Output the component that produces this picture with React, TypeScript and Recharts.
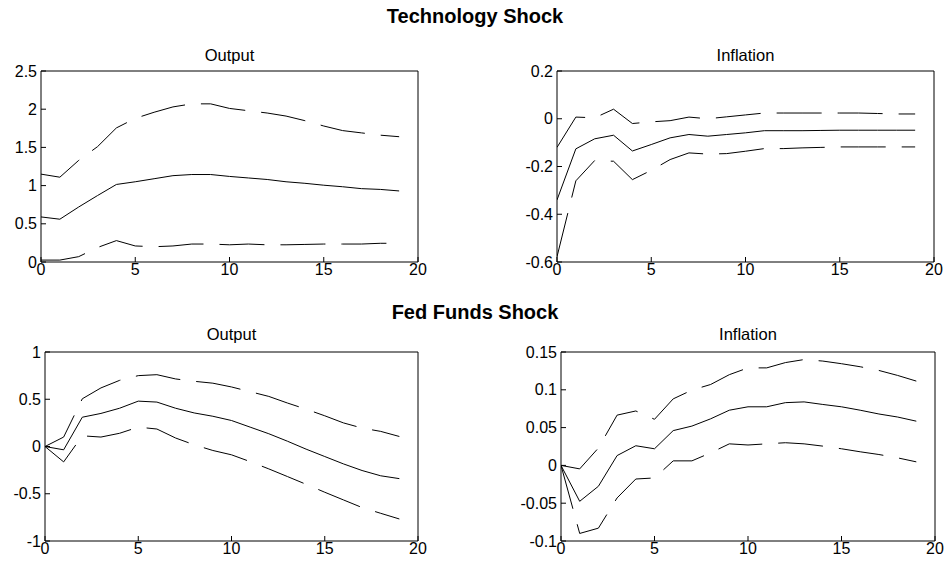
import React from 'react';
import { LineChart, Line, XAxis, YAxis } from 'recharts';

const periods = [0, 1, 2, 3, 4, 5, 6, 7, 8, 9, 10, 11, 12, 13, 14, 15, 16, 17, 18, 19];
const xTicks = [0, 5, 10, 15, 20];

const techOutputMid = [0.59, 0.56, 0.72, 0.87, 1.015, 1.05, 1.09, 1.13, 1.145, 1.145, 1.12, 1.1, 1.08, 1.05, 1.03, 1.005, 0.985, 0.96, 0.95, 0.93];
const techOutputUpper = [1.15, 1.11, 1.33, 1.51, 1.755, 1.88, 1.96, 2.03, 2.07, 2.07, 2.01, 1.98, 1.95, 1.91, 1.85, 1.78, 1.72, 1.69, 1.66, 1.64];
const techOutputLower = [0.025, 0.025, 0.07, 0.19, 0.28, 0.21, 0.2, 0.21, 0.235, 0.235, 0.225, 0.235, 0.225, 0.225, 0.23, 0.235, 0.235, 0.235, 0.245, 0.245];
const techOutputTicks = [0, 0.5, 1, 1.5, 2, 2.5];

const techInflMid = [-0.34, -0.126, -0.084, -0.069, -0.135, -0.108, -0.08, -0.066, -0.073, -0.066, -0.059, -0.05, -0.05, -0.05, -0.049, -0.048, -0.048, -0.048, -0.048, -0.048];
const techInflUpper = [-0.12, 0.007, 0.004, 0.04, -0.02, -0.013, -0.008, 0.007, 0, 0.008, 0.016, 0.024, 0.024, 0.024, 0.024, 0.024, 0.024, 0.022, 0.02, 0.02];
const techInflLower = [-0.578, -0.26, -0.175, -0.178, -0.255, -0.216, -0.171, -0.143, -0.148, -0.146, -0.136, -0.125, -0.125, -0.122, -0.12, -0.118, -0.118, -0.118, -0.118, -0.118];
const techInflTicks = [-0.6, -0.4, -0.2, 0, 0.2];

const fedOutputMid = [0, -0.035, 0.31, 0.35, 0.405, 0.48, 0.47, 0.405, 0.355, 0.32, 0.275, 0.205, 0.135, 0.056, -0.028, -0.106, -0.184, -0.254, -0.31, -0.34];
const fedOutputUpper = [0, 0.1, 0.505, 0.62, 0.7, 0.75, 0.76, 0.715, 0.69, 0.67, 0.63, 0.58, 0.53, 0.46, 0.395, 0.325, 0.25, 0.195, 0.16, 0.106];
const fedOutputLower = [0, -0.163, 0.113, 0.1, 0.14, 0.205, 0.185, 0.09, 0.018, -0.042, -0.088, -0.16, -0.237, -0.318, -0.4, -0.484, -0.565, -0.646, -0.707, -0.767];
const fedOutputTicks = [-1, -0.5, 0, 0.5, 1];

const fedInflMid = [0, -0.0475, -0.0276, 0.013, 0.026, 0.022, 0.046, 0.052, 0.0616, 0.073, 0.0775, 0.0775, 0.083, 0.084, 0.0806, 0.0775, 0.073, 0.068, 0.064, 0.0585];
const fedInflUpper = [0, -0.0046, 0.023, 0.0665, 0.072, 0.061, 0.088, 0.0996, 0.107, 0.12, 0.129, 0.129, 0.136, 0.14, 0.138, 0.1345, 0.1305, 0.1256, 0.119, 0.1115];
const fedInflLower = [0, -0.09, -0.083, -0.043, -0.018, -0.0166, 0.006, 0.006, 0.0166, 0.0285, 0.027, 0.0285, 0.03, 0.0285, 0.0255, 0.022, 0.018, 0.0144, 0.01, 0.0047];
const fedInflTicks = [-0.1, -0.05, 0, 0.05, 0.1, 0.15];

const FONT = '"Liberation Sans", Arial, Helvetica, sans-serif';
const TICK_FONT = 16;

type PanelProps = {
  mid: number[];
  upper: number[];
  lower: number[];
  yTicks: number[];
  left: number;
  top: number;
  width: number;
  height: number;
};

function Panel({ mid, upper, lower, yTicks, left, top, width, height }: PanelProps) {
  const mL = 60;
  const mR = 12;
  const mT = 10;
  const mB = 30;
  const data = periods.map((t, i) => ({ t, mid: mid[i], upper: upper[i], lower: lower[i] }));
  const domain: [number, number] = [yTicks[0], yTicks[yTicks.length - 1]];
  const tickStyle = { fill: '#000', fontSize: TICK_FONT, fontFamily: FONT };
  return (
    <div style={{ position: 'absolute', left: left - mL, top: top - mT }}>
      <LineChart
        width={width + mL + mR}
        height={height + mT + mB}
        data={data}
        margin={{ top: 0, right: 0, bottom: 0, left: 0 }}
      >
        <XAxis
          dataKey="t"
          type="number"
          domain={[0, 20]}
          ticks={xTicks}
          interval={0}
          height={mB}
          tickSize={-5}
          tickMargin={7}
          stroke="#000"
          tick={tickStyle}
          allowDataOverflow
        />
        <XAxis
          xAxisId="top"
          orientation="top"
          type="number"
          domain={[0, 20]}
          ticks={xTicks}
          interval={0}
          height={mT}
          tickSize={-5}
          stroke="#000"
          tick={false}
          allowDataOverflow
        />
        <YAxis
          type="number"
          domain={domain}
          ticks={yTicks}
          interval={0}
          width={mL}
          tickSize={-5}
          tickMargin={9}
          stroke="#000"
          tick={tickStyle}
          allowDataOverflow
        />
        <YAxis
          yAxisId="right"
          orientation="right"
          type="number"
          domain={domain}
          ticks={yTicks}
          interval={0}
          width={mR}
          tickSize={-5}
          stroke="#000"
          tick={false}
          allowDataOverflow
        />
        <Line type="linear" dataKey="upper" stroke="#000" strokeWidth={1} strokeDasharray="45 16" dot={false} isAnimationActive={false} />
        <Line type="linear" dataKey="mid" stroke="#000" strokeWidth={1} dot={false} isAnimationActive={false} />
        <Line type="linear" dataKey="lower" stroke="#000" strokeWidth={1} strokeDasharray="45 16" dot={false} isAnimationActive={false} />
      </LineChart>
    </div>
  );
}

export default function App() {
  return (
    <div style={{ position: 'absolute', left: 0, top: 0, width: 951, height: 569, background: '#fff', fontFamily: FONT }}>
      <svg width={951} height={569} style={{ position: 'absolute', left: 0, top: 0 }}>
        <text x={475} y={23} textAnchor="middle" fontSize={20} fontWeight="bold" fontFamily={FONT} fill="#000">Technology Shock</text>
        <text x={475} y={319} textAnchor="middle" fontSize={20} fontWeight="bold" fontFamily={FONT} fill="#000">Fed Funds Shock</text>
        <text x={229.5} y={61} textAnchor="middle" fontSize={16.5} fontFamily={FONT} fill="#000">Output</text>
        <text x={745.5} y={61} textAnchor="middle" fontSize={16.5} fontFamily={FONT} fill="#000">Inflation</text>
        <text x={231.5} y={340} textAnchor="middle" fontSize={16.5} fontFamily={FONT} fill="#000">Output</text>
        <text x={748} y={340} textAnchor="middle" fontSize={16.5} fontFamily={FONT} fill="#000">Inflation</text>
      </svg>
      <Panel mid={techOutputMid} upper={techOutputUpper} lower={techOutputLower} yTicks={techOutputTicks} left={41} top={71} width={377} height={191} />
      <Panel mid={techInflMid} upper={techInflUpper} lower={techInflLower} yTicks={techInflTicks} left={557} top={71} width={377} height={191} />
      <Panel mid={fedOutputMid} upper={fedOutputUpper} lower={fedOutputLower} yTicks={fedOutputTicks} left={45} top={352} width={373} height={189} />
      <Panel mid={fedInflMid} upper={fedInflUpper} lower={fedInflLower} yTicks={fedInflTicks} left={561} top={352} width={374} height={189} />
    </div>
  );
}
